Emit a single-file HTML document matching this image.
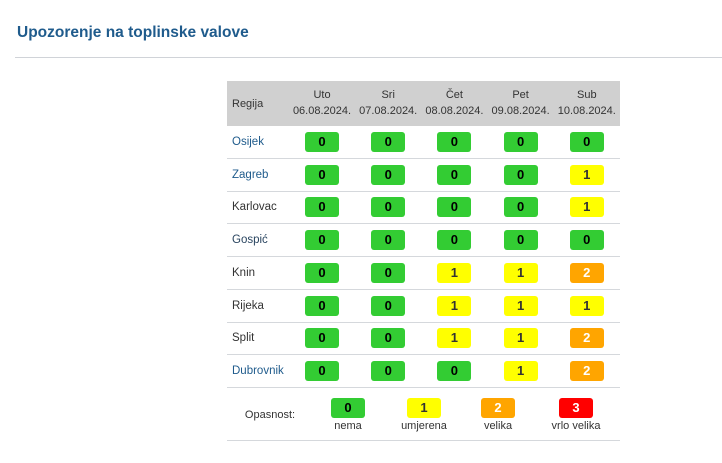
<!DOCTYPE html>
<html><head><meta charset="utf-8">
<style>
body{margin:0;width:722px;height:463px;background:#fff;font-family:"Liberation Sans",sans-serif;position:relative;overflow:hidden}
.a{position:absolute}
.title{left:17px;top:24px;font-size:15.5px;font-weight:bold;color:#1f5b8c}
.hr{left:15px;top:57px;width:707px;height:1px;background:#d0d3d8}
.head{left:227px;top:81px;width:393px;height:45px;background:#d0d0d0}
.ht{font-size:11px;color:#333;text-align:center;line-height:16px}
.line{left:227px;width:393px;height:1px;background:#d5d8dc}
.reg{left:232px;font-size:11.5px}
.b{width:34px;height:20px;border-radius:3px;font-weight:bold;font-size:13px;text-align:center;line-height:20px}
.lab{font-size:11px;color:#333;text-align:center;width:80px}
</style></head><body>
<div class="a title">Upozorenje na toplinske valove</div>
<div class="a hr"></div>
<div class="a head"></div>
<div class="a ht" style="left:232px;top:96px;text-align:left">Regija</div>
<div id="root"></div>
<script>
const days=["Uto","Sri","Čet","Pet","Sub"];
const dates=["06.08.2024.","07.08.2024.","08.08.2024.","09.08.2024.","10.08.2024."];
const regions=["Osijek","Zagreb","Karlovac","Gospić","Knin","Rijeka","Split","Dubrovnik"];
const levels=[[0,0,0,0,0],[0,0,0,0,1],[0,0,0,0,1],[0,0,0,0,0],[0,0,1,1,2],[0,0,1,1,1],[0,0,1,1,2],[0,0,0,1,2]];
const legendLevels=[0,1,2,3];
const legendLabels=["nema","umjerena","velika","vrlo velika"];
const bg=["#33cc33","#ffff00","#ffa500","#ff0000"];
const fg=["#000","#333","#fff","#fff"];
const regColor=["#1f5b8c","#1f5b8c","#333","#2a4560","#333","#333","#333","#1f5b8c"];
const root=document.body;
const colX=i=>322+i*66.2;
const rowY=r=>126+r*32.7;
function mk(cls,l,t,txt){const d=document.createElement('div');d.className='a '+cls;d.style.left=l+'px';d.style.top=t+'px';if(txt!==undefined)d.textContent=txt;root.appendChild(d);return d;}
days.forEach((d,i)=>{
  const h=mk('ht',colX(i)-35,87);h.style.width='70px';h.innerHTML=d+'<br>'+dates[i];
  
  
});
regions.forEach((r,ri)=>{
  const y=rowY(ri);
  const n=mk('reg',232,y+10,r);n.style.color=regColor[ri];
  
  
  levels[ri].forEach((v,ci)=>{
    const b=mk('b',colX(ci)-17,y+6,v);b.style.background=bg[v];b.style.color=fg[v];
    
    
  });
  const l=mk('line',227,y+32);
  
  
});
const o=mk('lab',230,409,'Opasnost:');


const lx=[348,424,498,576];
legendLevels.forEach((v,i)=>{
  const b=mk('b',lx[i]-17,398,v);b.style.background=bg[v];b.style.color=fg[v];
  
  
  const t=mk('lab',lx[i]-40,420,legendLabels[i]);
  
  
});
const e=mk('line',227,440);


</script>
</body></html>
